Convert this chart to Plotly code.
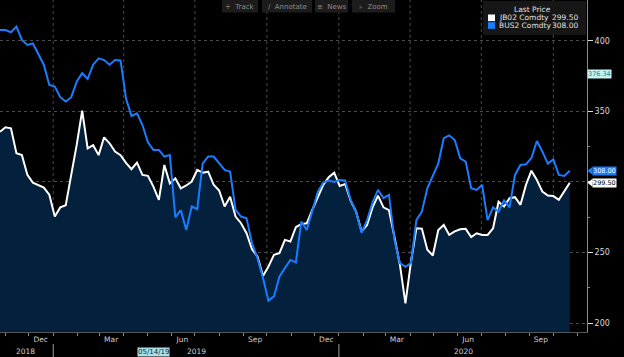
import plotly.graph_objects as go
import pandas as pd

# ---------------- data ----------------
dates = pd.date_range("2018-10-25", periods=105, freq="7D")

jb02 = [335.6, 338.7, 338.0, 320.3, 319.0, 305.0, 299.5, 298.0, 296.0, 291.0,
        275.5, 282.0, 283.5, 305.0, 326.2, 350.5, 323.8, 326.0, 319.0, 331.6,
        327.4, 321.5, 319.0, 313.5, 309.0, 313.7, 305.0, 304.3, 296.7, 287.3,
        312.0, 299.0, 302.6, 295.5, 297.5, 300.3, 308.5, 306.6, 307.3, 298.0,
        294.0, 282.6, 289.6, 275.5, 270.8, 263.7, 252.4, 247.2, 233.5, 240.1,
        248.4, 249.6, 259.0, 257.8, 268.0, 270.3, 270.8, 280.2, 288.5, 298.0,
        303.3, 306.6, 297.2, 298.6, 286.8, 279.0, 265.0, 269.6, 282.0, 290.3,
        282.0, 280.0, 261.0, 241.3, 214.0, 243.0, 267.2, 267.0, 252.0, 248.0,
        266.0, 269.6, 262.5, 265.0, 266.5, 266.8, 261.0, 263.7, 262.5, 262.5,
        267.2, 286.0, 282.6, 288.5, 289.2, 283.8, 297.9, 308.0, 301.4, 293.2,
        290.4, 290.0, 287.3, 293.2, 299.5]

bus2 = [407.5, 407.5, 406.0, 410.0, 400.5, 397.0, 398.0, 391.0, 383.0, 368.6,
        367.5, 360.0, 357.0, 360.0, 371.0, 377.0, 373.0, 383.0, 387.5, 386.3,
        383.0, 386.3, 386.0, 359.0, 346.7, 348.6, 340.3, 328.0, 322.7, 322.7,
        318.0, 319.0, 275.0, 280.0, 266.0, 282.6, 280.7, 313.2, 318.0, 318.0,
        313.0, 308.5, 307.3, 280.2, 275.5, 274.3, 256.6, 246.0, 232.0, 216.0,
        219.0, 233.0, 239.0, 244.8, 243.0, 272.0, 266.0, 280.0, 293.0, 299.5,
        301.0, 300.0, 301.4, 301.0, 287.3, 279.0, 264.0, 273.0, 285.5, 294.4,
        288.5, 290.8, 259.0, 242.5, 240.0, 242.5, 273.0, 279.0, 295.5, 304.3,
        313.2, 331.0, 333.0, 329.7, 316.8, 314.4, 295.5, 294.4, 298.0, 273.0,
        282.0, 279.0, 287.0, 282.0, 305.0, 312.0, 312.5, 317.0, 329.0, 321.5,
        313.0, 316.0, 305.0, 304.3, 308.0]

series_names = ["JB02 Comdty", "BUS2 Comdty"]
last_prices = ["299.50", "308.00"]
marker_value = 376.34

month_ticks = ["2018-12-16", "2019-03-16", "2019-06-15", "2019-09-16",
               "2019-12-16", "2020-03-15", "2020-06-14", "2020-09-15"]
month_text = ["Dec", "Mar", "Jun", "Sep", "Dec", "Mar", "Jun", "Sep"]
year_pos = ["2018-11-27", "2019-07-03", "2020-06-08"]
year_text = ["2018", "2019", "2020"]
grid_dates = ["2019-01-01", "2019-04-01", "2019-07-01", "2019-10-01",
              "2020-01-01", "2020-04-01", "2020-07-01", "2020-10-01"]
year_breaks = ["2019-01-01", "2020-01-01"]
cursor_date = "2019-05-14"
cursor_text = "05/14/19"
toolbar = ["+  Track", "\u2215  Annotate", "\u2261  News", "\u2315  Zoom"]

y_tickvals = [200, 250, 300, 350, 400]
y_ticktext = ["200", "250", "", "350", "400"]   # 300 is hidden behind the price tags

x_range = ["2018-10-25", "2020-11-13"]
y_range = [193.8, 428.8]

# ---------------- layout geometry (pixels) ----------------
W, H = 624, 357
ML, MR, MT, MB = 0, 37, 0, 25
PW, PH = W - ML - MR, H - MT - MB


def px(x):
    return (x - ML) / PW


def py(y):
    return 1 - (y - MT) / PH


FONT = "DejaVu Sans"
NAVY = "#03203c"
BLUE = "#1a7cff"
FS = 7.5

fig = go.Figure()
fig.add_trace(go.Scatter(
    x=dates, y=jb02, mode="lines", name=series_names[0],
    line=dict(color="white", width=2), fill="tozeroy", fillcolor=NAVY,
    showlegend=False, hoverinfo="skip"))
fig.add_trace(go.Scatter(
    x=dates, y=bus2, mode="lines", name=series_names[1],
    line=dict(color=BLUE, width=2), showlegend=False, hoverinfo="skip"))

shapes = []
annotations = []

# vertical quarterly gridlines
for d in grid_dates:
    shapes.append(dict(type="line", xref="x", yref="paper", x0=d, x1=d, y0=0, y1=1,
                       line=dict(color="#4a4a4a", width=1, dash="dot"), layer="below"))
# year separators in label band
for d in year_breaks:
    shapes.append(dict(type="line", xref="x", yref="paper", x0=d, x1=d,
                       y0=py(344), y1=py(357), line=dict(color="#9a9a9a", width=1)))
for d, t in zip(year_pos, year_text):
    annotations.append(dict(x=d, xref="x", y=py(351), yref="paper", text=t,
                            showarrow=False, font=dict(family=FONT, size=FS, color="#d0d0d0"),
                            xanchor="center", yanchor="middle"))
# cursor date box
annotations.append(dict(x=cursor_date, xref="x", xshift=-4, y=py(351.5), yref="paper",
                        text=cursor_text, showarrow=False, bgcolor="#a9dfe6",
                        font=dict(family=FONT, size=7, color="#0c2a3a"),
                        xanchor="center", yanchor="middle", borderpad=0))

# legend box
shapes.append(dict(type="rect", xref="paper", yref="paper", x0=px(483), x1=px(586),
                   y0=py(35), y1=py(1), fillcolor="#161616", line=dict(width=0)))
annotations.append(dict(x=px(532), y=py(9.5), xref="paper", yref="paper", text="Last Price",
                        showarrow=False, font=dict(family=FONT, size=FS, color="#e0e0e0"),
                        xanchor="center", yanchor="middle"))
row_y = [17.8, 25.5]
colors = ["white", BLUE]
for ry, nm, lp, c in zip(row_y, series_names, last_prices, colors):
    shapes.append(dict(type="rect", xref="paper", yref="paper", x0=px(488), x1=px(495),
                       y0=py(ry + 3.3), y1=py(ry - 3.3), fillcolor=c, line=dict(width=0)))
    annotations.append(dict(x=px(497), y=py(ry), xref="paper", yref="paper", text=nm,
                            showarrow=False, font=dict(family=FONT, size=FS, color="#e0e0e0"),
                            xanchor="left", yanchor="middle"))
    annotations.append(dict(x=px(580), y=py(ry), xref="paper", yref="paper", text=lp,
                            showarrow=False, font=dict(family=FONT, size=FS, color="#e0e0e0"),
                            xanchor="right", yanchor="middle"))

# toolbar
tb_boxes = [(222, 258), (262, 312), (315, 348), (352, 395)]
for (a, b), t in zip(tb_boxes, toolbar):
    shapes.append(dict(type="rect", xref="paper", yref="paper", x0=px(a), x1=px(b),
                       y0=py(12.5), y1=py(0), fillcolor="#1c1c1c", line=dict(width=0)))
    annotations.append(dict(x=px((a + b) / 2), y=py(6.5), xref="paper", yref="paper", text=t,
                            showarrow=False, font=dict(family=FONT, size=7, color="#8c8c8c"),
                            xanchor="center", yanchor="middle"))

# right-axis value tags
tag_specs = [
    (marker_value, "376.34", "#c4f2f2", "#2e7f86", False),
    (float(last_prices[1]), last_prices[1], BLUE, "white", True),
    (float(last_prices[0]), last_prices[0], "white", "black", True),
]
for val, txt, bg, fc, arrow in tag_specs:
    annotations.append(dict(x=1, xref="paper", xshift=(5 if arrow else 0), y=val, yref="y",
                            text=txt, showarrow=False, bgcolor=bg, borderpad=0,
                            font=dict(family=FONT, size=6.5, color=fc),
                            xanchor="left", yanchor="middle"))
    if arrow:
        dy = 4.0 / (PH / (y_range[1] - y_range[0]))
        shapes.append(dict(type="path", xref="paper", yref="y",
                           path=f"M {px(587.5)},{val} L {px(592.5)},{val + dy} L {px(592.5)},{val - dy} Z",
                           fillcolor=bg, line=dict(width=0)))

fig.update_layout(
    width=W, height=H,
    margin=dict(l=ML, r=MR, t=MT, b=MB),
    paper_bgcolor="black", plot_bgcolor="black",
    shapes=shapes, annotations=annotations,
    xaxis=dict(
        type="date", range=x_range, tickmode="array", tickvals=month_ticks,
        ticktext=month_text, ticks="", ticklen=0, showgrid=False, zeroline=False,
        tickfont=dict(family=FONT, size=FS, color="#d0d0d0"),
        showline=True, linecolor="#555555", linewidth=1,
        minor=dict(dtick="M1", tick0="2018-11-01", ticks="outside", ticklen=3,
                   tickcolor="#8a8a8a", showgrid=False),
    ),
    yaxis=dict(
        side="right", range=y_range, tickmode="array",
        tickvals=y_tickvals, ticktext=y_ticktext, ticks="outside", ticklen=5,
        tickcolor="#dddddd", showgrid=True, gridcolor="#4a4a4a", griddash="dot",
        zeroline=False, showline=True, linecolor="#8a8a8a", linewidth=1,
        tickfont=dict(family=FONT, size=8, color="#d8d8d8"),
        minor=dict(tickvals=[225, 275, 325, 375], ticks="outside", ticklen=2,
                   tickcolor="#8a8a8a", showgrid=False),
    ),
)

fig.write_html("out.html", config={"displayModeBar": False},
               post_script="document.body.style.margin='0';document.body.style.background='black';")
